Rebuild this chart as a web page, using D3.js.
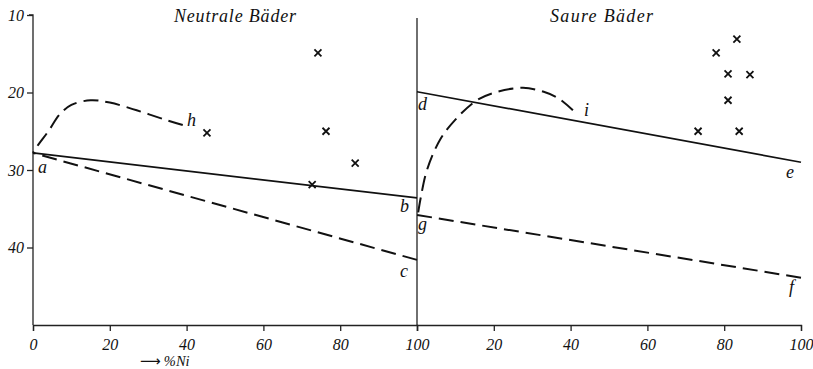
<!DOCTYPE html>
<html>
<head>
<meta charset="utf-8">
<script src="https://cdn.jsdelivr.net/npm/d3@7"></script>
<style>
  body { margin: 0; background: #fff; }
  text { font-family: "Liberation Serif", "DejaVu Serif", serif; font-style: italic; fill: #111; }
</style>
</head>
<body>
<script>
// values (y = potential, x = % Ni in each panel)
var yTicks = [10, 20, 30, 40];
var xTicks = [0, 20, 40, 60, 80, 100];
var titles = ["Neutrale Bäder", "Saure Bäder"];

// neutral baths (left panel)
var lineAB = [[0, 27.8], [100, 33.6]];
var lineAC = [[0, 27.8], [100, 41.6]];
var curveH = [[0, 27.8], [1, 27], [4, 25], [7, 22.8], [10, 21.6], [15, 21],
              [20, 21.3], [27, 22.3], [35, 23.6], [39, 24.2]];
var crossesLeft = [[45.3, 25.2], [74.2, 14.9], [76.3, 25.0], [83.9, 29.1], [72.7, 31.9]];

// acid baths (right panel)
var lineDE = [[0, 19.9], [100, 29.0]];
var lineGF = [[0, 35.8], [100, 43.9]];
var curveI = [[0.3, 35.5], [1, 33.5], [2.6, 30], [6, 26.1], [10, 23.5], [15.6, 21],
              [21, 19.9], [27.6, 19.4], [33, 19.9], [37, 20.8], [40.6, 22.3]];
var crossesRight = [[83.3, 13.1], [77.9, 14.9], [81.0, 17.6], [86.7, 17.7],
                    [81.0, 21.0], [73.2, 25.0], [83.9, 25.0]];

var w = 813, h = 369;
var svg = d3.select("body").append("svg")
            .attr("width", w)
            .attr("height", h);

var xL = d3.scaleLinear().domain([0, 100]).range([33, 417]);
var xR = d3.scaleLinear().domain([0, 100]).range([417, 801]);
var y = d3.scaleLinear().domain([10, 50]).range([15, 325]);

// axes
svg.append("g")
   .attr("class", "yaxis")
   .attr("transform", "translate(33,0)")
   .call(d3.axisLeft(y).tickValues(yTicks).tickSize(6).tickFormat(d3.format("d")))
   .call(function(g) { g.select(".domain").attr("d", "M-4,15H0V325"); });

svg.append("g")
   .attr("class", "xaxis")
   .attr("transform", "translate(0,325)")
   .call(d3.axisBottom(xL).tickValues(xTicks).tickSize(6).tickFormat(d3.format("d")));
svg.append("g")
   .attr("class", "xaxis")
   .attr("transform", "translate(0,325)")
   .call(d3.axisBottom(xR).tickValues(xTicks.slice(1)).tickSize(6).tickFormat(d3.format("d")));

svg.selectAll(".tick text")
   .attr("font-size", 16)
   .style("font-family", "Liberation Serif")
   .style("font-style", "italic");
svg.selectAll(".xaxis .tick text").attr("dy", "1.0em");
svg.selectAll(".domain, .tick line").attr("stroke", "#222").attr("stroke-width", 1.3);

// middle separator
svg.append("line")
   .attr("x1", xL(100)).attr("x2", xL(100))
   .attr("y1", 18).attr("y2", 325)
   .attr("stroke", "#222").attr("stroke-width", 1.3);

// titles
svg.selectAll("text.title")
   .data(titles)
   .enter()
   .append("text")
   .attr("class", "title")
   .text(function(d) { return d; })
   .attr("x", function(d, i) { return i == 0 ? 174 : 550; })
   .attr("y", 22)
   .attr("font-size", 18)
   .attr("textLength", function(d, i) { return i == 0 ? 122 : 103; });

var axisLabel = svg.append("text")
   .attr("x", 140)
   .attr("y", 366)
   .attr("font-size", 14.5);
axisLabel.append("tspan")
   .style("font-family", "DejaVu Sans")
   .style("font-style", "normal")
   .text("⟶");
axisLabel.append("tspan")
   .attr("dx", 3)
   .text("%Ni");

// lines
var lineL = d3.line().x(function(d) { return xL(d[0]); }).y(function(d) { return y(d[1]); });
var lineR = d3.line().x(function(d) { return xR(d[0]); }).y(function(d) { return y(d[1]); });
var curveL = d3.line().curve(d3.curveCatmullRom).x(function(d) { return xL(d[0]); }).y(function(d) { return y(d[1]); });
var curveR = d3.line().curve(d3.curveCatmullRom).x(function(d) { return xR(d[0]); }).y(function(d) { return y(d[1]); });

function draw(gen, data, dashed) {
  var p = svg.append("path")
     .attr("d", gen(data))
     .attr("fill", "none")
     .attr("stroke", "#111")
     .attr("stroke-width", dashed ? 2 : 1.7);
  if (dashed) {
    // let the pattern end on a whole dash
    var len = p.node().getTotalLength();
    var off = ((15 - len) % 22 + 22) % 22;
    p.attr("stroke-dasharray", "15,7").attr("stroke-dashoffset", off);
  }
}
draw(lineL, lineAB, false);
draw(lineL, lineAC, true);
draw(curveL, curveH, true);
draw(lineR, lineDE, false);
draw(lineR, lineGF, true);
draw(curveR, curveI, true);

// crosses
function crosses(data, xs) {
  svg.selectAll(null)
     .data(data)
     .enter()
     .append("path")
     .attr("d", function(d) {
       var cx = xs(d[0]), cy = y(d[1]), r = 3.5;
       return "M" + (cx - r) + "," + (cy - r) + "L" + (cx + r) + "," + (cy + r) +
              "M" + (cx - r) + "," + (cy + r) + "L" + (cx + r) + "," + (cy - r);
     })
     .attr("stroke", "#111")
     .attr("stroke-width", 1.8);
}
crosses(crossesLeft, xL);
crosses(crossesRight, xR);

// curve letters
var letters = [["a", 38, 173], ["b", 400, 212], ["c", 400, 277], ["h", 187, 126],
               ["d", 418, 110], ["g", 418, 230], ["i", 584, 116], ["e", 786, 178], ["f", 789, 293]];
svg.selectAll("text.lbl")
   .data(letters)
   .enter()
   .append("text")
   .attr("class", "lbl")
   .text(function(d) { return d[0]; })
   .attr("x", function(d) { return d[1]; })
   .attr("y", function(d) { return d[2]; })
   .attr("font-size", 18);
</script>
</body>
</html>
